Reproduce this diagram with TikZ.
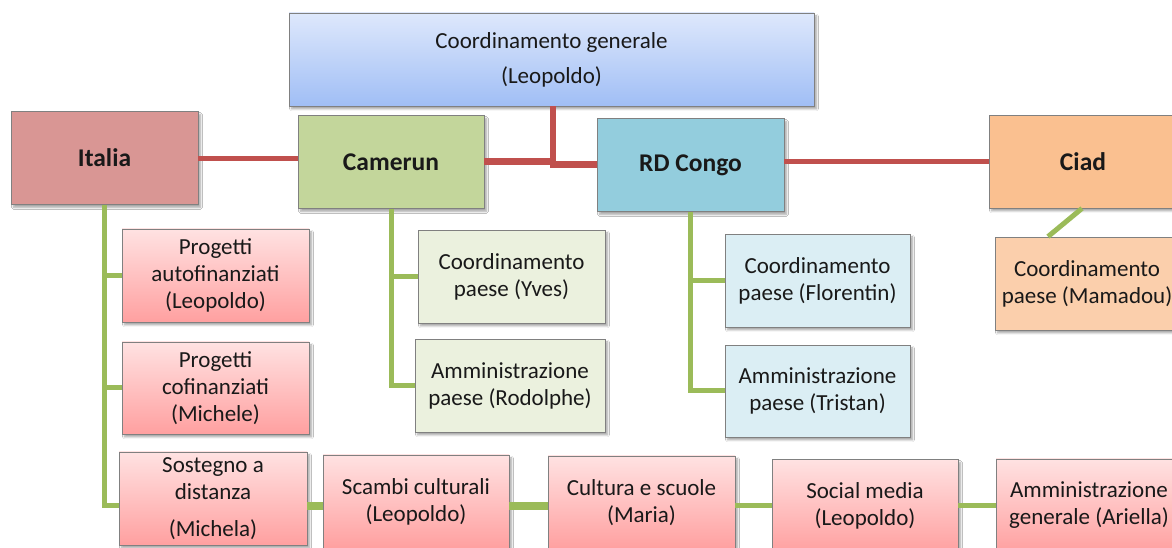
\documentclass[tikz,border=0pt]{standalone}
\usepackage{fontspec}
\setmainfont{Carlito}
\usetikzlibrary{shadows.blur}
\definecolor{redline}{RGB}{192,80,77}
\definecolor{greenline}{RGB}{155,187,89}
\definecolor{italiacol}{RGB}{217,150,148}
\definecolor{camcol}{RGB}{195,214,155}
\definecolor{rdccol}{RGB}{147,205,221}
\definecolor{ciadcol}{RGB}{250,192,144}
\definecolor{ciadlight}{RGB}{251,207,172}
\definecolor{camlight}{RGB}{235,241,222}
\definecolor{rdclight}{RGB}{219,238,244}
\definecolor{pinktop}{RGB}{255,226,226}
\definecolor{pinkbot}{RGB}{255,160,160}
\definecolor{bluetop}{RGB}{222,232,252}
\definecolor{bluebot}{RGB}{160,190,245}
\definecolor{txt}{RGB}{25,25,25}
\tikzset{
  box/.style={draw=black!50, line width=0.8pt, minimum width=187pt, minimum height=93pt,
    inner sep=0pt, align=center, text=txt, font=\fontsize{23}{27}\selectfont,
    blur shadow={shadow xshift=2.5pt, shadow yshift=-3pt, shadow blur steps=6, shadow opacity=35}},
  country/.style={box, font=\fontsize{25.5}{30}\selectfont\bfseries},
  pinkbox/.style={box, top color=pinktop, bottom color=pinkbot},
  redc/.style={draw=redline, line width=5pt},
  redthick/.style={draw=redline, line width=7pt},
  greenc/.style={draw=greenline, line width=5pt},
  greenthick/.style={draw=greenline, line width=8pt}
}
\begin{document}
\begin{tikzpicture}[x=1pt,y=1pt]
\useasboundingbox (0,0) rectangle (1172,548);
\clip (0,0) rectangle (1172,548);
\fill[white] (0,0) rectangle (1172,548);

% connectors drawn first (under boxes)
\coordinate (jx) at (553,383);
\coordinate (jc) at (553,386);

% nodes
\node[box, minimum width=525pt, top color=bluetop, bottom color=bluebot] (top) at (551.5,488.5) {Coordinamento generale\\[8pt](Leopoldo)};
\node[country, fill=italiacol] (italia) at (104.5,390) {Italia};
\node[country, fill=camcol, minimum width=186pt] (camerun) at (391,386) {Camerun};
\node[country, fill=rdccol] (rdcongo) at (690.5,383) {RD Congo};
\node[country, fill=ciadcol, minimum width=188pt] (ciad) at (1083,386.5) {Ciad};
\node[box, fill=ciadlight, minimum width=184pt] (mamadou) at (1087,264.5) {Coordinamento\\paese (Mamadou)};

\node[pinkbox] (autofin) at (215.5,272.5) {Progetti\\autofinanziati\\(Leopoldo)};
\node[pinkbox, minimum height=92pt] (cofin) at (215.5,160) {Progetti\\cofinanziati\\(Michele)};
\node[pinkbox, minimum width=188pt] (sostegno) at (213,49.5) {Sostegno a\\distanza\\[10pt](Michela)};
\node[pinkbox, minimum width=186pt] (scambi) at (416,46.5) {Scambi culturali\\(Leopoldo)};
\node[pinkbox] (cultura) at (641.5,45.5) {Cultura e scuole\\(Maria)};
\node[pinkbox, minimum width=186pt] (social) at (865,42) {Social media\\(Leopoldo)};
\node[pinkbox, minimum width=186pt] (ammgen) at (1089,42.5) {Amministrazione\\generale (Ariella)};

\node[box, fill=camlight] (yves) at (511.5,271.5) {Coordinamento\\paese (Yves)};
\node[box, fill=camlight, minimum width=190pt] (rodolphe) at (510,162.5) {Amministrazione\\paese (Rodolphe)};
\node[box, fill=rdclight, minimum width=185pt] (florentin) at (817.5,267.5) {Coordinamento\\paese (Florentin)};
\node[box, fill=rdclight, minimum width=185pt, minimum height=92pt] (tristan) at (817.5,157) {Amministrazione\\paese (Tristan)};

% connectors
\begin{scope}[on background layer/.try]
\end{scope}
\draw[redc] (italia.east |- 0,389) -- (camerun.west |- 0,389);
\draw[redthick] (camerun.east) -- (jc);
\draw[redthick, line width=6pt] (top.south -| jx) -- ([yshift=-3pt]jx);
\draw[redthick] (jx) -- (rdcongo.west);
\draw[redc] (rdcongo.east |- ciad.west) -- (ciad.west);

\draw[greenc] (italia.south) |- (autofin.west);
\draw[greenc] (italia.south) |- (cofin.west);
\draw[greenc] (italia.south) |- (sostegno.west |- social.west);
\draw[greenthick] (sostegno.east |- social.west) -- (scambi.west |- social.west);
\draw[greenthick] (scambi.east |- social.west) -- (cultura.west |- social.west);
\draw[greenc] (cultura.east |- social.west) -- (social.west);
\draw[greenc] (social.east) -- (ammgen.west |- social.east);

\draw[greenc] (camerun.south) |- (yves.west);
\draw[greenc] (camerun.south) |- (rodolphe.west);
\draw[greenc] (rdcongo.south) |- (florentin.west);
\draw[greenc] (rdcongo.south) |- (tristan.west);
\draw[greenc] ([xshift=-1pt]ciad.south) -- ([xshift=-39pt]mamadou.north);
\end{tikzpicture}
\end{document}
